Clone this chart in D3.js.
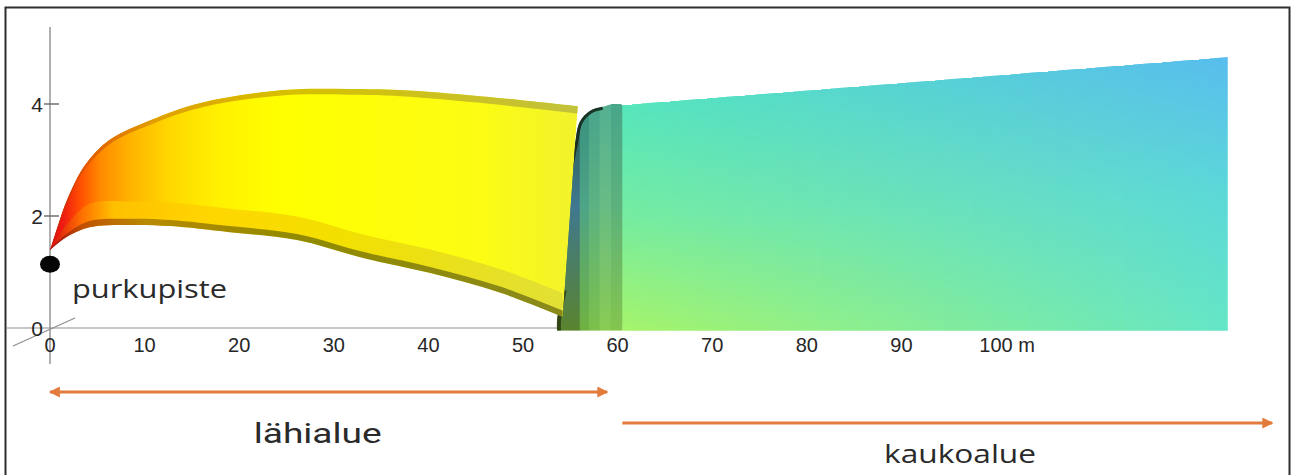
<!DOCTYPE html>
<html>
<head>
<meta charset="utf-8">
<script src="https://cdn.jsdelivr.net/npm/d3@7"></script>
<style>
  html, body { margin: 0; padding: 0; background: #fff; }
  svg { display: block; }
</style>
</head>
<body>
<svg id="chart" width="1292" height="475"></svg>
<script>
// ---- axis ticks ----
const xTickValues = [0, 10, 20, 30, 40, 50, 60, 70, 80, 90, 100];
const xTickLabels = ["0", "10", "20", "30", "40", "50", "60", "70", "80", "90", "100 m"];
const yTickValues = [0, 2, 4];
const yTickLabels = ["0", "2", "4"];

// ---- near-field plume (lähialue): upper and lower surface, metres ----
const nearTopX = [0, 0.85, 1.8, 3.7, 6.3, 10.6, 15.9, 24.6, 31.7, 37, 45.5, 55.8];
const nearTopY = [1.39, 1.84, 2.29, 2.91, 3.36, 3.71, 4.02, 4.25, 4.27, 4.25, 4.14, 3.96];
const nearBottomX = [0, 0.4, 1.8, 4.2, 8.5, 12.7, 19.0, 26.1, 33.1, 40.2, 47.6, 54.2];
const nearBottomY = [1.39, 1.45, 1.63, 1.80, 1.84, 1.82, 1.71, 1.57, 1.25, 0.98, 0.63, 0.20];

// ---- collar joining near and far field ----
const joinX = [53.6, 53.6, 54.2, 54.8, 55.0, 55.5, 56.0, 57.1, 58.4, 60.5, 60.5];
const joinY = [-0.05, 0.14, 0.68, 2.46, 2.87, 3.30, 3.68, 3.88, 3.95, 3.98, -0.05];
const joinStripX = [53.6, 56.0, 57.0, 58.1, 59.3, 60.5];

// ---- far-field plume (kaukoalue) ----
const farX = [60.5, 124.5];
const farTop = [3.98, 4.84];
const farBottom = [-0.05, -0.05];

// ---- discharge point ----
const sourceX = 0;
const sourceY = 1.14;

// ---- zone annotations ----
const zoneNames = ["lähialue", "kaukoalue"];
const zoneFrom = [0, 60.5];
const zoneTo = [58.9, 129.2];
const zoneLabelX = [28.3, 96.2];

// ================= drawing =================
const svg = d3.select("#chart");
const defs = svg.append("defs");

const xs = d3.scaleLinear().domain([0, 100]).range([50, 996]);
const ys = d3.scaleLinear().domain([0, 4]).range([328, 104]);

const orange = "#e27b3c";
const axisGrey = "#8e8e8e";
const curve = d3.curveCatmullRom.alpha(0.5);

function hGradient(id, x0, x1, stops) {
  const g = defs.append("linearGradient").attr("id", id)
    .attr("gradientUnits", "userSpaceOnUse")
    .attr("x1", x0).attr("x2", x1).attr("y1", 0).attr("y2", 0);
  stops.forEach(([o, c]) => g.append("stop").attr("offset", o).attr("stop-color", c));
}
function vGradient(id, stops) {
  const g = defs.append("linearGradient").attr("id", id)
    .attr("x1", 0).attr("x2", 0).attr("y1", 0).attr("y2", 1);
  stops.forEach(([o, c]) => g.append("stop").attr("offset", o).attr("stop-color", c));
}

// frame
svg.append("rect")
  .attr("x", 5.5).attr("y", 7.5).attr("width", 1284).attr("height", 480)
  .attr("fill", "none").attr("stroke", "#2e2e2e").attr("stroke-width", 2);

// ---- axes ----
const axes = svg.append("g");
axes.append("line")
  .attr("x1", xs(0)).attr("x2", xs(0)).attr("y1", 27).attr("y2", 364)
  .attr("stroke", axisGrey).attr("stroke-width", 1.4);
axes.append("line")
  .attr("x1", 6).attr("x2", xs(84.1)).attr("y1", ys(0)).attr("y2", ys(0))
  .attr("stroke", axisGrey).attr("stroke-width", 1.2);
// depth axis stub
axes.append("line")
  .attr("x1", xs(0) - 37).attr("y1", ys(0) + 18)
  .attr("x2", xs(0) + 25).attr("y2", ys(0) - 10)
  .attr("stroke", axisGrey).attr("stroke-width", 1.2);

// y ticks
axes.selectAll("line.ytick").data(yTickValues.filter(v => v > 0)).join("line")
  .attr("class", "ytick")
  .attr("x1", xs(0) - 6).attr("x2", xs(0) + 9)
  .attr("y1", d => ys(d)).attr("y2", d => ys(d))
  .attr("stroke", "#666").attr("stroke-width", 1.4);
axes.selectAll("text.ylab").data(yTickValues).join("text")
  .attr("class", "ylab")
  .attr("x", 43).attr("y", d => ys(d) + 8)
  .attr("text-anchor", "end")
  .attr("font-family", "Liberation Sans, Arial, sans-serif")
  .attr("font-size", 21).attr("fill", "#262626")
  .text((d, i) => yTickLabels[i]);

// x tick labels
const xl = axes.selectAll("text.xlab").data(xTickValues).join("text")
  .attr("class", "xlab")
  .attr("x", d => xs(d)).attr("y", ys(0) + 24)
  .attr("text-anchor", "middle")
  .attr("font-family", "Liberation Sans, Arial, sans-serif")
  .attr("font-size", 20).attr("fill", "#262626")
  .text((d, i) => xTickLabels[i]);
// keep the number centred on its tick when a unit follows it
xl.each(function (d, i) {
  const label = xTickLabels[i];
  const sp = label.indexOf(" ");
  if (sp > 0) {
    const numW = this.getSubStringLength(0, sp);
    d3.select(this).attr("text-anchor", "start").attr("x", xs(d) - numW / 2);
  }
});

// ---- collar between the two zones ----
const joinPts = d3.zip(joinX, joinY);
const joinLine = d3.line().x(d => xs(d[0])).y(d => ys(d[1])).curve(curve);
const joinPath = joinLine(joinPts) + "Z";
defs.append("clipPath").attr("id", "joinClip").append("path").attr("d", joinPath);

const joinColors = [
  ["#2a5a44", "#3f7890", "#5a842e"],
  ["#38907e", "#4ea486", "#70b240"],
  ["#48a48c", "#5cb282", "#7cc04a"],
  ["#54b092", "#68bc84", "#8acb52"],
  ["#48a68a", "#5cb27c", "#84c54e"]
];
joinColors.forEach((c, i) => vGradient("joinG" + i, [[0, c[0]], [0.45, c[1]], [1, c[2]]]));
const joinG = svg.append("g").attr("clip-path", "url(#joinClip)");
joinG.selectAll("rect").data(d3.pairs(joinStripX)).join("rect")
  .attr("x", d => xs(d[0])).attr("width", d => xs(d[1]) - xs(d[0]) + 0.6)
  .attr("y", ys(4.0)).attr("height", ys(-0.05) - ys(4.0))
  .attr("fill", (d, i) => `url(#joinG${i})`);
// shaded rim around the rounded top corner
joinG.append("path")
  .attr("d", joinLine(joinPts.slice(3, 9)))
  .attr("fill", "none").attr("stroke", "#16281a").attr("stroke-width", 6)
  .attr("stroke-opacity", 0.9);
// shadow at the foot of the collar
joinG.append("path")
  .attr("d", joinLine(joinPts.slice(0, 3)))
  .attr("fill", "none").attr("stroke", "#2a3a12").attr("stroke-width", 8)
  .attr("stroke-opacity", 0.85);

// ---- far field ----
const farPoly = [
  [farX[0], farBottom[0]], [farX[0], farTop[0]],
  [farX[1], farTop[1]], [farX[1], farBottom[1]]
];
defs.append("clipPath").attr("id", "farClip").append("path")
  .attr("d", d3.line().x(d => xs(d[0])).y(d => ys(d[1])).curve(d3.curveLinear)(farPoly) + "Z");

const farTopAt = d3.scaleLinear().domain(farX).range(farTop);
const leftCol = ["#56e6bc", "#76eca0", "#a6f46a"];
const rightCol = ["#58bdee", "#5cd8d8", "#64e6c6"];
const nStrips = 64;
const strips = d3.range(nStrips).map(i => {
  const a = farX[0] + (farX[1] - farX[0]) * i / nStrips;
  const b = farX[0] + (farX[1] - farX[0]) * (i + 1) / nStrips;
  return { a, b, t: (i + 0.5) / nStrips };
});
strips.forEach((s, i) => {
  const c = leftCol.map((lc, k) => d3.interpolateRgb(lc, rightCol[k])(s.t));
  vGradient("farG" + i, [[0, c[0]], [0.5, c[1]], [1, c[2]]]);
});
const farG = svg.append("g").attr("clip-path", "url(#farClip)");
farG.selectAll("rect").data(strips).join("rect")
  .attr("x", d => xs(d.a))
  .attr("width", d => xs(d.b) - xs(d.a) + 0.8)
  .attr("y", d => ys(farTopAt((d.a + d.b) / 2)))
  .attr("height", d => ys(farBottom[0]) - ys(farTopAt((d.a + d.b) / 2)))
  .attr("fill", (d, i) => `url(#farG${i})`)
  .attr("shape-rendering", "crispEdges");

// ---- near field ----
const topPts = d3.zip(nearTopX, nearTopY);
const botPts = d3.zip(nearBottomX, nearBottomY);
const lineXY = d3.line().x(d => xs(d[0])).y(d => ys(d[1])).curve(curve);
const bodyPath = lineXY(topPts) + lineXY(botPts.slice().reverse()).replace(/^M/, "L") + "Z";
defs.append("clipPath").attr("id", "nearClip").append("path").attr("d", bodyPath);

const gx0 = xs(0), gx1 = xs(56);
hGradient("nearBody", gx0, gx1, [
  [0, "#e00a14"], [0.023, "#ee1a12"], [0.057, "#ff4e00"], [0.095, "#ff8a00"],
  [0.152, "#ffb400"], [0.227, "#ffd800"], [0.322, "#fff200"], [0.436, "#ffff00"],
  [0.81, "#fcfc14"], [1, "#f2f22e"]
]);
hGradient("nearTopBand", gx0, gx1, [
  [0, "#c81808"], [0.06, "#e05400"], [0.2, "#e0a000"], [0.45, "#d6c000"], [1, "#c2c23c"]
]);
hGradient("nearLightBand", gx0, gx1, [
  [0, "#d80c10"], [0.06, "#ff7000"], [0.12, "#ffc000"], [0.3, "#ffd600"],
  [0.55, "#f2e000"], [1, "#e0e03a"]
]);
hGradient("nearDarkEdge", gx0, gx1, [
  [0, "#9a0a10"], [0.06, "#c05000"], [0.18, "#b88a00"], [0.45, "#928a00"], [1, "#8a8a1e"]
]);

const nearG = svg.append("g").attr("clip-path", "url(#nearClip)");
nearG.append("path").attr("d", bodyPath).attr("fill", "url(#nearBody)");

const ramp = x => Math.min(1, (x + 0.3) / 4);
nearG.append("path")
  .attr("d", d3.area().curve(curve)
    .x(d => xs(d[0]))
    .y0(d => ys(d[1] + 0.1 * ramp(d[0])))
    .y1(d => ys(d[1] + 0.42 * ramp(d[0])))(botPts))
  .attr("fill", "url(#nearLightBand)");
nearG.append("path")
  .attr("d", d3.area().curve(curve)
    .x(d => xs(d[0]))
    .y0(d => ys(d[1] - 0.02))
    .y1(d => ys(d[1] + 0.11 * ramp(d[0])))(botPts))
  .attr("fill", "url(#nearDarkEdge)");
nearG.append("path")
  .attr("d", d3.area().curve(curve)
    .x(d => xs(d[0]))
    .y0(d => ys(d[1] + 0.02))
    .y1(d => ys(d[1] - (0.07 + 0.06 * d[0] / 56)))(topPts))
  .attr("fill", "url(#nearTopBand)");

// discharge point
svg.append("ellipse")
  .attr("cx", xs(sourceX)).attr("cy", ys(sourceY))
  .attr("rx", 10).attr("ry", 8.5).attr("fill", "#050505");

svg.append("text")
  .attr("x", 72).attr("y", 298)
  .attr("font-family", "Open Sans, Noto Sans, sans-serif")
  .attr("font-size", 25).attr("fill", "#2a2a2a")
  .attr("textLength", 155).attr("lengthAdjust", "spacingAndGlyphs")
  .text("purkupiste");

// ---- zone arrows ----
const mk = defs.append("marker").attr("id", "arrowHead")
  .attr("viewBox", "0 0 10 10").attr("refX", 9).attr("refY", 5)
  .attr("markerWidth", 12).attr("markerHeight", 11)
  .attr("markerUnits", "userSpaceOnUse")
  .attr("orient", "auto-start-reverse");
mk.append("path").attr("d", "M0,0 L10,5 L0,10 Z").attr("fill", orange);

const arrowY = [392, 423];
const labelY = [443, 463];
const labelFont = ["Liberation Sans Narrow, Roboto, sans-serif", "Open Sans, Noto Sans, sans-serif"];
const labelSize = [27, 25];
const labelLen = [128, 152];

zoneNames.forEach((name, i) => {
  const ln = svg.append("line")
    .attr("x1", xs(zoneFrom[i])).attr("x2", xs(zoneTo[i]))
    .attr("y1", arrowY[i]).attr("y2", arrowY[i])
    .attr("stroke", orange).attr("stroke-width", 3)
    .attr("marker-end", "url(#arrowHead)");
  if (i === 0) ln.attr("marker-start", "url(#arrowHead)");
  svg.append("text")
    .attr("x", xs(zoneLabelX[i])).attr("y", labelY[i])
    .attr("text-anchor", "middle")
    .attr("font-family", labelFont[i])
    .attr("font-size", labelSize[i]).attr("fill", "#2a2a2a")
    .attr("textLength", labelLen[i]).attr("lengthAdjust", "spacingAndGlyphs")
    .text(name);
});
</script>
</body>
</html>
